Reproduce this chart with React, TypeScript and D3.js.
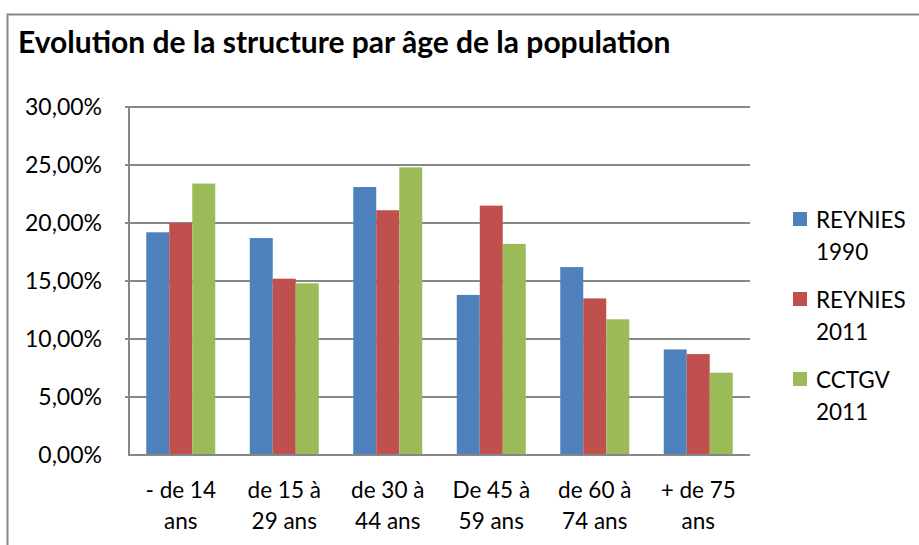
import * as d3 from "d3";

const categories = [
  ["- de 14", "ans"],
  ["de 15 à", "29 ans"],
  ["de 30 à", "44 ans"],
  ["De 45 à", "59 ans"],
  ["de 60 à", "74 ans"],
  ["+ de 75", "ans"],
];
const seriesNames = [
  ["REYNIES", "1990"],
  ["REYNIES", "2011"],
  ["CCTGV", "2011"],
];
const reynies1990 = [19.2, 18.7, 23.1, 13.8, 16.2, 9.1];
const reynies2011 = [20.0, 15.2, 21.1, 21.5, 13.5, 8.7];
const cctgv2011 = [23.4, 14.8, 24.8, 18.2, 11.7, 7.1];
const yTicks = [0, 5, 10, 15, 20, 25, 30];
const colors = ["#4f81bd", "#c0504d", "#9bbb59"];

const W = 919;
const H = 545;
const plot = { left: 129, right: 750, top: 107, bottom: 455 };
const font = "Lato, 'Noto Sans', sans-serif";

export default function App() {
  const series = [reynies1990, reynies2011, cctgv2011];
  const x0 = d3
    .scaleBand()
    .domain(categories.map((_, i) => String(i)))
    .range([plot.left, plot.right])
    .paddingInner(0.3333)
    .paddingOuter(0.16667);
  const x1 = d3
    .scaleBand()
    .domain(["0", "1", "2"])
    .range([0, x0.bandwidth()]);
  const y = d3.scaleLinear().domain([0, 30]).range([plot.bottom, plot.top]);
  const step = (plot.right - plot.left) / categories.length;
  const fmt = (v: number) => v.toFixed(2).replace(".", ",") + "%";

  return (
    <svg
      width={W}
      height={H}
      style={{ display: "block", position: "absolute", left: 0, top: 0 }}
      fontFamily={font}
    >
      <rect x={0} y={0} width={W} height={H} fill="#fff" />
      <rect x={7.5} y={14.5} width={1000} height={1000} fill="none" stroke="#878787" strokeWidth={2} />
      <text x={18} y={53} fontSize={30} fontWeight="bold" fill="#000">
        Evolution de la structure par âge de la population
      </text>

      {yTicks.map((t) => (
        <g key={t}>
          {t > 0 && (
            <line x1={plot.left - 4} x2={plot.right} y1={y(t)} y2={y(t)} stroke="#878787" strokeWidth={2} />
          )}
          <text x={102} y={y(t)} dy="0.35em" textAnchor="end" fontSize={23} fill="#000">
            {fmt(t)}
          </text>
        </g>
      ))}

      {categories.map((c, i) => (
        <g key={i}>
          {series.map((s, j) => (
            <rect
              key={j}
              x={(x0(String(i)) as number) + (x1(String(j)) as number)}
              y={y(s[i])}
              width={x1.bandwidth()}
              height={plot.bottom - y(s[i])}
              fill={colors[j]}
            />
          ))}
          <text
            x={plot.left + step * (i + 0.5)}
            y={490}
            dy="0.35em"
            textAnchor="middle"
            fontSize={22.5}
            fill="#000"
          >
            {c[0]}
          </text>
          <text
            x={plot.left + step * (i + 0.5)}
            y={521}
            dy="0.35em"
            textAnchor="middle"
            fontSize={22.5}
            fill="#000"
          >
            {c[1]}
          </text>
        </g>
      ))}

      <line x1={plot.left} x2={plot.left} y1={plot.top} y2={plot.bottom + 1} stroke="#878787" strokeWidth={2} />
      <line x1={plot.left - 1} x2={plot.right} y1={plot.bottom} y2={plot.bottom} stroke="#878787" strokeWidth={2} />

      {seriesNames.map((n, j) => (
        <g key={j} transform={`translate(793, ${212 + j * 80})`}>
          <rect x={0} y={0} width={14} height={14} fill={colors[j]} />
          <text x={23} y={8} dy="0.35em" fontSize={22.5} fill="#000">
            {n[0]}
          </text>
          <text x={23} y={40} dy="0.35em" fontSize={22.5} fill="#000">
            {n[1]}
          </text>
        </g>
      ))}
    </svg>
  );
}
